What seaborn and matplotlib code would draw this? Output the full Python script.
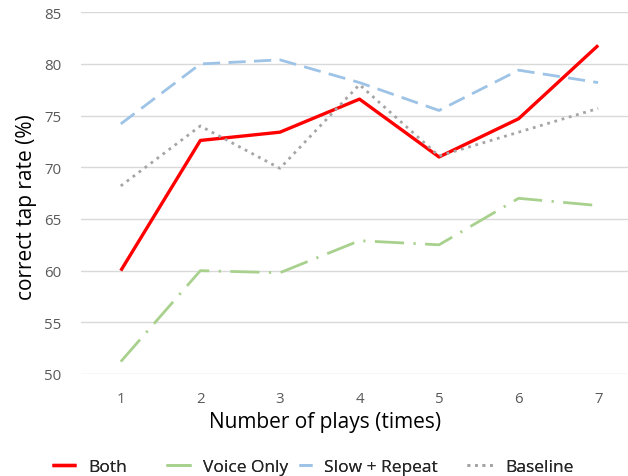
import matplotlib
matplotlib.use("Agg")
import matplotlib.pyplot as plt
import pandas as pd
import seaborn as sns

plays = [1, 2, 3, 4, 5, 6, 7]
both = [60.0, 72.6, 73.4, 76.6, 71.0, 74.7, 81.8]
voice_only = [51.2, 60.0, 59.8, 62.9, 62.5, 67.0, 66.3]
slow_repeat = [74.2, 80.0, 80.4, 78.2, 75.5, 79.4, 78.2]
baseline = [68.2, 74.0, 69.9, 78.0, 71.1, 73.4, 75.7]

series = {
    "Both": both,
    "Voice Only": voice_only,
    "Slow + Repeat": slow_repeat,
    "Baseline": baseline,
}

# line look for each series: colour, width (pt), dash pattern
styles = {
    "Both": ("#FF0000", 2.4, "-"),
    "Voice Only": ("#A9D18E", 2.0, (0, (10.5, 3.4, 0.8, 3.4))),
    "Slow + Repeat": ("#9DC3E6", 2.0, (0, (6.2, 3.0))),
    "Baseline": ("#A5A5A5", 2.0, (0, (1.0, 1.7))),
}

df = pd.concat(
    [pd.DataFrame({"plays": plays, "rate": v, "method": k}) for k, v in series.items()]
)

sns.set_theme(style="white")
plt.rcParams["font.family"] = ["Open Sans", "DejaVu Sans"]

fig = plt.figure(figsize=(6.28, 4.77), dpi=100)
ax = fig.add_axes([81 / 628, 1 - 375 / 477, 547 / 628, (375 - 13.3) / 477])

for name in series:
    color, lw, ls = styles[name]
    sns.lineplot(
        data=df[df["method"] == name],
        x="plays",
        y="rate",
        ax=ax,
        color=color,
        linewidth=lw,
        linestyle=ls,
        label=name,
        solid_capstyle="butt",
        dash_capstyle="butt",
    )

ax.set_xlim(0.5, 7.375)
ax.set_ylim(50, 85)
ax.set_yticks(range(50, 86, 5))
ax.set_xticks(plays)
ax.yaxis.grid(True, color="#D9D9D9", linewidth=1)
ax.set_axisbelow(True)
for s in ax.spines.values():
    s.set_visible(False)
ax.tick_params(axis="both", length=0, labelsize=10.8, labelcolor="#595959")
ax.tick_params(axis="x", pad=12)
ax.tick_params(axis="y", pad=14)

ax.set_xlabel("Number of plays (times)", fontsize=15, color="black")
ax.set_ylabel("correct tap rate (%)", fontsize=15, color="black")
ax.xaxis.set_label_coords(0.446, -0.103)
ax.yaxis.set_label_coords(-0.080, 0.464)

handles, labels = ax.get_legend_handles_labels()
ax.get_legend().remove()

# each legend entry sits where it is in the original, so one legend per entry
legend_x = [52, 166, 299, 467]
legend_len = [24, 25, 13, 26]
fs = 12.5
for h, lab, x0, ln in zip(handles, labels, legend_x, legend_len):
    leg = fig.legend(
        [h],
        [lab],
        loc="center left",
        bbox_to_anchor=(x0 / 628, 0.018),
        frameon=False,
        fontsize=fs,
        handlelength=ln / (fs * 100 / 72),
        handletextpad=(88 - 76) / (fs * 100 / 72),
        borderpad=0,
        borderaxespad=0,
    )
    fig.add_artist(leg)

fig.savefig("out.png", dpi=100)
